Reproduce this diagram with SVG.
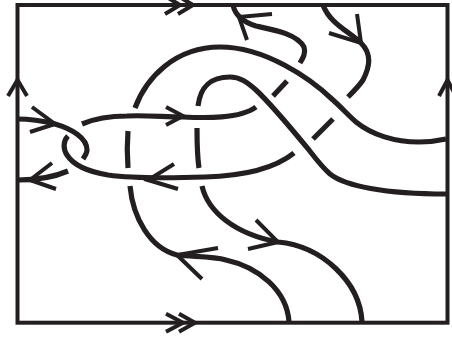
<svg xmlns="http://www.w3.org/2000/svg" width="452" height="337" viewBox="0 0 452 337">
<style>
path,rect{fill:none;stroke:#231f20;stroke-linejoin:miter}
.f{stroke-width:4}
.s{stroke-width:5.2}
.a{stroke-width:4}
</style>
<rect id="frame" class="f" x="17.5" y="5" width="430" height="317.7" fill="#fff"/>
<g id="frame-arrows">
<path class="a" d="M165 -4L180 5L165 14M178 -4L193 5L178 14"/>
<path class="a" d="M166 313.7L183 322.7L166 331.7M179 313.7L195 322.7L179 331.7"/>
<path class="a" d="M8 96L17.5 80L27 96"/>
<path class="a" d="M439 96L447.5 80L456 96"/>
</g>
<g id="strands">
<path class="s" d="M17.5 119C30 119 43 121 55 124C72 129 87 138 87 150C87 153 85 156 83 159"/>
<path class="s" d="M68 136C63 141 63 149 67 155C74 166 90 172 108 175C130 178 175 178 205 177C240 176 274 169 294 153"/>
<path class="s" d="M17.5 180C35 180 52 178 68 171"/>
<path class="s" d="M82 124C96 118 112 116 127 116C145 115 165 117 183 117C205 118 240 119 256 107"/>
<path class="s" d="M135 108C146 78 175 47 220 47C265 47 310 78 333 100C342 108 349 116 356 122C372 135 395 142 419 142C428 142 437 141 446 139"/>
<path class="s" d="M198 106C200 90 207 77 230 77C240 77 247 82 256 90C272 105 295 133 309 150C316 159 322 167 330 174C345 186 385 194 446 194"/>
<path class="s" d="M128 131C127 143 127 155 128 168"/>
<path class="s" d="M197 128C197 142 197 155 199 168"/>
<path class="s" d="M130 186C133 218 150 248 177 255C192 257 212 256 226 260C258 267 287 290 289 322"/>
<path class="s" d="M202 186C208 212 235 234 278 242C322 246 360 282 362 322"/>
<path class="s" d="M233 5C235 15 243 22 256 26C275 30 297 34 304 47C306 53 303 58 300 63"/>
<path class="s" d="M287 81L273 96"/>
<path class="s" d="M323 5C330 24 350 32 361 43C372 54 370 66 363 80C359 86 354 91 348 97"/>
<path class="s" d="M333 119L313 139"/>
</g>
<g id="arrows">
<path class="a" d="M32 107L55 124L30 132"/>
<path class="a" d="M166 107L183 116L166 125"/>
<path class="a" d="M174 164L148 180L178 189"/>
<path class="a" d="M52 163L30 180L56 189"/>
<path class="a" d="M218 248L177 255L202 279"/>
<path class="a" d="M256 220L278 242L248 249"/>
<path class="a" d="M272 14L239 17L247 40"/>
<path class="a" d="M357 14L361 43L329 33"/>
</g>
</svg>
